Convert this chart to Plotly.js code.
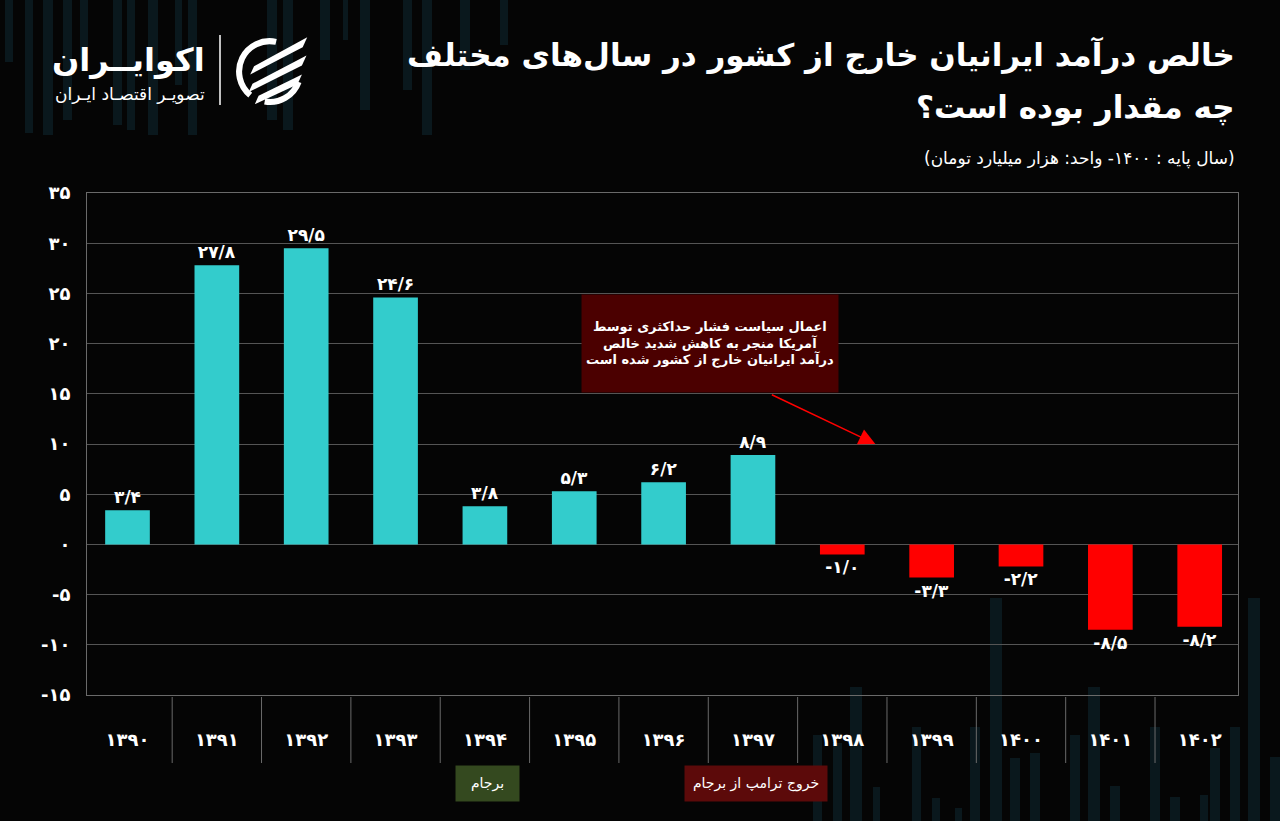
<!DOCTYPE html>
<html>
<head>
<meta charset="utf-8">
<script src="https://cdn.plot.ly/plotly-3.0.1.min.js"></script>
<style>
html,body{margin:0;padding:0;background:#050505;}
#chart{width:1280px;height:821px;}
</style>
</head>
<body>
<div id="chart"></div>
<script>
// ---------- data ----------
const years = ['۱۳۹۰','۱۳۹۱','۱۳۹۲','۱۳۹۳','۱۳۹۴','۱۳۹۵','۱۳۹۶','۱۳۹۷','۱۳۹۸','۱۳۹۹','۱۴۰۰','۱۴۰۱','۱۴۰۲'];
const netIncome = [3.4, 27.8, 29.5, 24.6, 3.8, 5.3, 6.2, 8.9, -1.0, -3.3, -2.2, -8.5, -8.2];
const yTickValues = [35, 30, 25, 20, 15, 10, 5, 0, -5, -10, -15];

const titleLine1 = 'خالص درآمد ایرانیان خارج از کشور در سال‌های مختلف';
const titleLine2 = 'چه مقدار بوده است؟';
const subtitle = '(سال پایه : ۱۴۰۰- واحد: هزار میلیارد تومان)';
const noteLines = ['اعمال سیاست فشار حداکثری توسط', 'آمریکا منجر به کاهش شدید خالص', 'درآمد ایرانیان خارج از کشور شده است'];
const markerJcpoa = 'برجام';
const markerTrump = 'خروج ترامپ از برجام';
const brandName = 'اکوایــران';
const brandTag = 'تصویـر اقتصـاد ایـران';

// ---------- helpers ----------
const FA = '۰۱۲۳۴۵۶۷۸۹';
function toFa(v, dec){
  let s = dec ? v.toFixed(dec) : String(v);
  return s.replace(/[0-9]/g, d => FA[+d]).replace('.', '/');
}
const RLM = '\u200F';
function rtl(s){ return RLM + s + RLM; }

// plot area in pixels
const L = 87, R = 1238, T = 193, B = 695;
const px = x => (x - L) / (R - L);
const py = y => (B - y) / (B - T);

const FONT = 'DejaVu Sans, Noto Sans, sans-serif';
const WHITE = '#ffffff';
const CYAN = '#33cccc';
const RED = '#ff0000';

// ---------- decoration (background faint bars) ----------
const decoTop = [[5,13,62],[25,33,133],[43,53,135],[63,72,120],[80,88,60],[113,122,125],[127,135,130],[148,158,135],[175,182,85],[188,197,135],[267,277,120],[283,293,130],[320,330,60],[343,348,40],[360,370,110],[403,412,90],[422,432,135],[460,470,70],[500,508,45]];
const decoBottom = [[813,822,735],[833,842,743],[850,862,687],[873,880,787],[912,921,727],[932,940,798],[955,962,808],[970,980,727],[990,1002,598],[1010,1020,758],[1030,1040,753],[1070,1080,735],[1088,1100,687],[1110,1120,786],[1150,1160,727],[1170,1180,797],[1200,1208,795],[1210,1220,748],[1230,1240,727],[1248,1260,598],[1270,1280,757]];
const DECO = '#0a181d';

const shapes = [];
decoTop.forEach(d => shapes.push({type:'rect', xref:'paper', yref:'paper', x0:px(d[0]), x1:px(d[1]), y0:py(d[2]), y1:py(0), fillcolor:DECO, line:{width:0}, layer:'below'}));
decoBottom.forEach(d => shapes.push({type:'rect', xref:'paper', yref:'paper', x0:px(d[0]), x1:px(d[1]), y0:py(821), y1:py(d[2]), fillcolor:DECO, line:{width:0}, layer:'below'}));

// category separators below the plot
for (let i = 0; i < years.length - 1; i++){
  shapes.push({type:'line', xref:'x', yref:'paper', x0:i+0.5, x1:i+0.5, y0:py(697), y1:py(763), line:{color:'#6a6a6a', width:1}});
}
// logo separator line
shapes.push({type:'line', xref:'paper', yref:'paper', x0:px(220), x1:px(220), y0:py(35), y1:py(105), line:{color:WHITE, width:1.5}});

// ---------- logo icon ----------
const iconSvg = "<svg xmlns='http://www.w3.org/2000/svg' viewBox='0 0 100 100'>" +
 "<path d='M58 13 A40 40 0 0 0 24 83' fill='none' stroke='white' stroke-width='8'/>" +
 "<path d='M87.6 65.7 A40 40 0 0 1 43 91.4' fill='none' stroke='white' stroke-width='8'/>" +
 "<path d='M24 56 L29 45 L99 7 L93 20 Z' fill='white'/>" +
 "<path d='M22 79 L27 68 L98 31 L92 44 Z' fill='white'/>" +
 "<path d='M30 95 L35 84 L92 56 L86 69 Z' fill='white'/>" +
 "</svg>";
const iconSrc = 'data:image/svg+xml;utf8,' + encodeURIComponent(iconSvg);

// ---------- trace ----------
const trace = {
  type:'bar',
  x: years.map((_, i) => i),
  y: netIncome,
  width: 0.5,
  marker:{color: netIncome.map(v => v >= 0 ? CYAN : RED), line:{width:0}},
  text: netIncome.map(v => toFa(v, 1)),
  textposition:'outside',
  textfont:{family:FONT, size:17, color:WHITE, weight:700},
  constraintext:'none',
  cliponaxis:false,
  hoverinfo:'skip'
};

// ---------- annotations ----------
const annotations = [
  {xref:'paper', yref:'paper', x:px(1237), y:py(55), xanchor:'right', yanchor:'middle', showarrow:false,
   text: rtl(titleLine1), font:{family:FONT, size:31, color:WHITE, weight:700}},
  {xref:'paper', yref:'paper', x:px(1237), y:py(108), xanchor:'right', yanchor:'middle', showarrow:false,
   text: rtl(titleLine2), font:{family:FONT, size:31, color:WHITE, weight:700}},
  {xref:'paper', yref:'paper', x:px(1237), y:py(158), xanchor:'right', yanchor:'middle', showarrow:false,
   text: rtl(subtitle), font:{family:FONT, size:17, color:WHITE}},
  {xref:'paper', yref:'paper', x:px(207), y:py(60), xanchor:'right', yanchor:'middle', showarrow:false,
   text: rtl(brandName), font:{family:FONT, size:32, color:WHITE, weight:700}},
  {xref:'paper', yref:'paper', x:px(207), y:py(94), xanchor:'right', yanchor:'middle', showarrow:false,
   text: rtl(brandTag), font:{family:FONT, size:17, color:WHITE}},
  // note box
  {xref:'x', yref:'y', x:6.52, y:20, xanchor:'center', yanchor:'middle', showarrow:false,
   text: noteLines.map(rtl).join('<br>'), align:'center', bgcolor:'#4b0000', width:256, height:97, borderpad:0,
   font:{family:FONT, size:13, color:WHITE, weight:700}},
  // arrow
  {xref:'x', yref:'y', x:8.37, y:10, ax:-105, ay:-50, text:'', showarrow:true,
   arrowcolor:RED, arrowwidth:1.5, arrowhead:2, arrowsize:2.2},
  // event markers
  {xref:'x', yref:'paper', x:4.03, y:py(783.5), xanchor:'center', yanchor:'middle', showarrow:false,
   text: rtl(markerJcpoa), bgcolor:'#34491f', width:63, height:35, borderpad:0,
   font:{family:FONT, size:14, color:WHITE}},
  {xref:'x', yref:'paper', x:7.03, y:py(783.5), xanchor:'center', yanchor:'middle', showarrow:false,
   text: rtl(markerTrump), bgcolor:'#5c0a0a', width:142, height:35, borderpad:0,
   font:{family:FONT, size:14, color:WHITE}}
];

const layout = {
  width:1280, height:821,
  margin:{l:L, r:1280-R, t:T, b:821-B, pad:0},
  paper_bgcolor:'#050505',
  plot_bgcolor:'rgba(0,0,0,0)',
  showlegend:false,
  bargap:0.5,
  xaxis:{
    range:[(L-127.5)/89.35, (R-127.5)/89.35],
    tickmode:'array', tickvals: years.map((_, i) => i), ticktext: years,
    tickfont:{family:FONT, size:18, color:WHITE, weight:700},
    ticks:'outside', ticklen:28, tickcolor:'rgba(0,0,0,0)',
    showgrid:false, zeroline:false,
    showline:true, linecolor:'#6a6a6a', linewidth:1, mirror:true,
    fixedrange:true
  },
  yaxis:{
    range:[-15, 35],
    tickmode:'array', tickvals:yTickValues, ticktext:yTickValues.map(v => toFa(v)),
    tickfont:{family:FONT, size:18, color:WHITE, weight:700},
    ticks:'outside', ticklen:12, tickcolor:'rgba(0,0,0,0)',
    showgrid:true, gridcolor:'#555555', gridwidth:1,
    zeroline:false,
    showline:true, linecolor:'#6a6a6a', linewidth:1, mirror:true,
    fixedrange:true
  },
  shapes: shapes,
  annotations: annotations,
  images:[{source:iconSrc, xref:'paper', yref:'paper', x:px(232), y:py(32), sizex:px(308)-px(232), sizey:py(32)-py(108),
           xanchor:'left', yanchor:'top', sizing:'contain', layer:'above'}]
};

Plotly.newPlot('chart', [trace], layout, {displayModeBar:false, staticPlot:true});
</script>
</body>
</html>
